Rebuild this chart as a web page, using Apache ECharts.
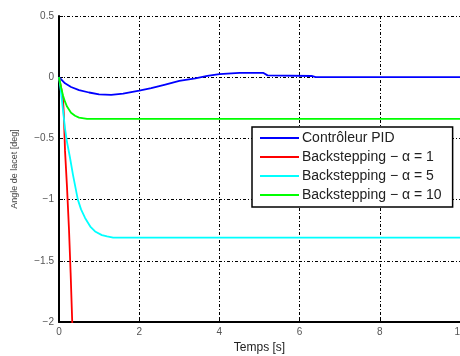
<!DOCTYPE html>
<html><head><meta charset="utf-8">
<script src="https://cdn.jsdelivr.net/npm/echarts@6/dist/echarts.min.js"></script>
<style>html,body{margin:0;padding:0;background:#fff}#c{width:460px;height:356px}</style>
</head><body><div id="c"></div>
<script>
const xTicks = [0, 2, 4, 6, 8, 10];
const yTicks = [0.5, 0, -0.5, -1, -1.5, -2];
const names = ['Contrôleur PID', 'Backstepping − α = 1', 'Backstepping − α = 5', 'Backstepping − α = 10'];
const pid = [[0,0],[0.15,-0.05],[0.3,-0.08],[0.5,-0.105],[0.75,-0.125],[1.0,-0.14],[1.3,-0.145],[1.6,-0.135],[2.0,-0.11],[2.3,-0.09],[2.65,-0.06],[3.0,-0.03],[3.4,-0.01],[3.7,0.01],[4.0,0.025],[4.5,0.035],[5.1,0.035],[5.2,0.015],[6.3,0.01],[6.4,0],[10,0]];
const bs1 = [[0,0],[0.05,-0.08],[0.1,-0.18],[0.12,-0.3],[0.15,-0.6],[0.2,-0.9],[0.25,-1.25],[0.29,-1.6],[0.33,-2.0],[0.36,-2.4]];
const bs5 = [[0,0],[0.05,-0.12],[0.1,-0.27],[0.15,-0.42],[0.2,-0.53],[0.27,-0.65],[0.35,-0.8],[0.47,-1.0],[0.55,-1.08],[0.65,-1.15],[0.78,-1.22],[0.9,-1.26],[1.07,-1.29],[1.2,-1.30],[1.35,-1.31],[10,-1.31]];
const bs10 = [[0,0],[0.05,-0.08],[0.1,-0.15],[0.15,-0.2],[0.2,-0.24],[0.3,-0.29],[0.4,-0.315],[0.5,-0.33],[0.7,-0.34],[10,-0.34]];
const colors = ['#0000ff', '#ff0000', '#00ffff', '#00ff00'];
const datasets = [pid, bs1, bs5, bs10];

const gridLine = {show: true, lineStyle: {color: '#000', width: 1, type: [3, 2, 1, 2]}};
const chart = echarts.init(document.getElementById('c'));
chart.setOption({
  backgroundColor: '#fff',
  animation: false,
  grid: {left: 59, right: 0, top: 16, bottom: 34, containLabel: false, outerBoundsMode: 'none'},
  xAxis: {
    type: 'value', min: xTicks[0], max: xTicks[xTicks.length-1], interval: 2,
    name: 'Temps [s]', nameLocation: 'middle', nameGap: 16,
    nameTextStyle: {fontFamily: 'Liberation Sans', fontSize: 12, color: '#222'},
    axisLine: {show: true, onZero: false, lineStyle: {color: '#000', width: 2}},
    axisTick: {show: true, inside: true, length: 4, lineStyle: {color: '#000'}},
    axisLabel: {fontFamily: 'Liberation Sans', fontSize: 10, color: '#555', margin: 5},
    splitLine: gridLine
  },
  yAxis: {
    type: 'value', min: -2, max: 0.5, interval: 0.5,
    name: 'Angle de lacet [deg]', nameLocation: 'middle', nameGap: 40,
    nameTextStyle: {fontFamily: 'Liberation Sans', fontSize: 9, color: '#444'},
    axisLine: {show: true, onZero: false, lineStyle: {color: '#000', width: 2}},
    axisTick: {show: true, inside: true, length: 4, lineStyle: {color: '#000'}},
    axisLabel: {fontFamily: 'Liberation Sans', fontSize: 10, color: '#555', margin: 5,
      formatter: v => yTicks.includes(v) ? String(v).replace('-', '\u2212') : ''},
    splitLine: gridLine
  },
  legend: {
    orient: 'vertical', left: 252, top: 127,
    padding: [4, 11, 5, 8], itemGap: 5, itemWidth: 39, itemHeight: 15,
    icon: 'path://M0,0H40V2H0Z',
    backgroundColor: '#fff', borderColor: '#000', borderWidth: 1.5,
    textStyle: {fontFamily: 'Liberation Sans', fontSize: 14, color: '#222', padding: [0, 0, 0, -2]},
    data: names
  },
  series: datasets.map((d, i) => ({
    name: names[i], type: 'line', data: d, symbol: 'none', clip: true,
    lineStyle: {color: colors[i], width: 1.8}, itemStyle: {color: colors[i]}, z: 3
  }))
});
</script></body></html>
